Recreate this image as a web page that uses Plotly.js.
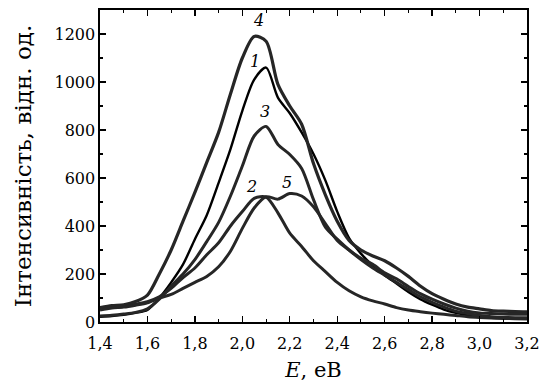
<!DOCTYPE html>
<html>
<head>
<meta charset="utf-8">
<script src="https://cdn.plot.ly/plotly-3.0.1.min.js"></script>
<style>html,body{margin:0;padding:0;background:#fff;}#chart{width:539px;height:388px;}</style>
</head>
<body>
<div id="chart"></div>
<script>
// Photon energy, eV
const energy = [1.40,1.45,1.50,1.55,1.60,1.65,1.70,1.75,1.80,1.85,1.90,1.95,2.00,2.05,2.10,2.15,2.20,2.25,2.30,2.35,2.40,2.45,2.50,2.55,2.60,2.65,2.70,2.75,2.80,2.85,2.90,2.95,3.00,3.05,3.10,3.15,3.20];
// Intensity of curves 1..5, arb. units
const curve1 = [22,25,30,38,50,100,165,240,345,445,580,720,880,1010,1060,935,870,790,700,590,460,350,285,235,195,160,125,95,72,52,38,28,22,18,16,15,15];
const curve2 = [55,60,65,75,85,105,140,185,225,280,330,400,460,515,520,455,370,315,255,210,165,130,105,88,75,60,50,43,37,32,27,22,19,17,15,14,13];
const curve3 = [25,28,33,40,55,95,150,200,260,335,415,525,650,775,815,740,698,640,510,395,345,300,260,225,195,165,135,105,82,62,45,35,27,22,19,18,18];
const curve4 = [60,68,72,85,112,200,300,420,540,665,790,950,1100,1190,1170,990,900,824,660,530,420,340,300,275,255,225,190,150,118,95,75,62,55,48,45,43,42];
const curve5 = [50,58,62,70,80,100,115,140,165,190,230,295,390,475,522,512,535,525,480,410,340,300,265,240,205,180,148,118,95,75,58,45,38,35,33,32,32];
const curveNames = ['1','2','3','4','5'];
const xTickVals = [1.4,1.6,1.8,2.0,2.2,2.4,2.6,2.8,3.0,3.2];
const xTickText = ['1,4','1,6','1,8','2,0','2,2','2,4','2,6','2,8','3,0','3,2'];
const yTickVals = [0,200,400,600,800,1000,1200];

const series = [curve1, curve2, curve3, curve4, curve5];
const colors = ['#000000','#262626','#262626','#262626','#262626'];
const widths = [2.4,3,3,3.2,3];

const traces = series.map((ys, i) => ({
  x: energy, y: ys, type: 'scatter', mode: 'lines', name: curveNames[i],
  line: {color: colors[i], width: widths[i], shape: 'spline', smoothing: 0.8},
  hoverinfo: 'skip'
}));

const tickFont = {family: 'DejaVu Serif, serif', size: 16, color: '#000'};
const labelFont = {family: 'DejaVu Serif, serif', size: 16, color: '#000', style: 'italic'};

const annotations = [
  {x: 2.07, y: 1255, text: '4'},
  {x: 2.053, y: 1085, text: '1'},
  {x: 2.096, y: 878, text: '3'},
  {x: 2.04, y: 566, text: '2'},
  {x: 2.19, y: 583, text: '5'}
].map(a => Object.assign({xref: 'x', yref: 'y', showarrow: false, font: labelFont}, a));

const layout = {
  width: 539, height: 388,
  margin: {l: 100, r: 12, t: 10, b: 66},
  paper_bgcolor: '#fff', plot_bgcolor: '#fff',
  showlegend: false,
  xaxis: {
    range: [1.4, 3.2], tickvals: xTickVals, ticktext: xTickText,
    ticks: 'inside', ticklen: 6, tickwidth: 1.3, tickcolor: '#000',
    minor: {dtick: 0.1, ticks: 'inside', ticklen: 3, tickwidth: 1.1, tickcolor: '#000', showgrid: false},
    showline: true, linecolor: '#000', linewidth: 1.6, mirror: 'allticks',
    showgrid: false, zeroline: false, tickfont: tickFont, ticklabelstandoff: 6,
    ticklabeloverflow: 'allow',
    title: {text: '<i>E</i>, eB', font: {family: 'DejaVu Serif, serif', size: 21, color: '#000'}, standoff: 10}
  },
  yaxis: {
    range: [0, 1300], tickvals: yTickVals,
    ticks: 'inside', ticklen: 6, tickwidth: 1.3, tickcolor: '#000',
    minor: {dtick: 100, tick0: 0, ticks: 'inside', ticklen: 3, tickwidth: 1.1, tickcolor: '#000', showgrid: false},
    showline: true, linecolor: '#000', linewidth: 1.6, mirror: 'allticks',
    showgrid: false, zeroline: false, tickfont: tickFont,
    title: {text: 'Інтенсивність, відн. од.', font: {family: 'DejaVu Serif, serif', size: 23, color: '#000'}, standoff: 16}
  },
  annotations: annotations
};

Plotly.newPlot('chart', traces, layout, {staticPlot: true, displayModeBar: false});
</script>
</body>
</html>
